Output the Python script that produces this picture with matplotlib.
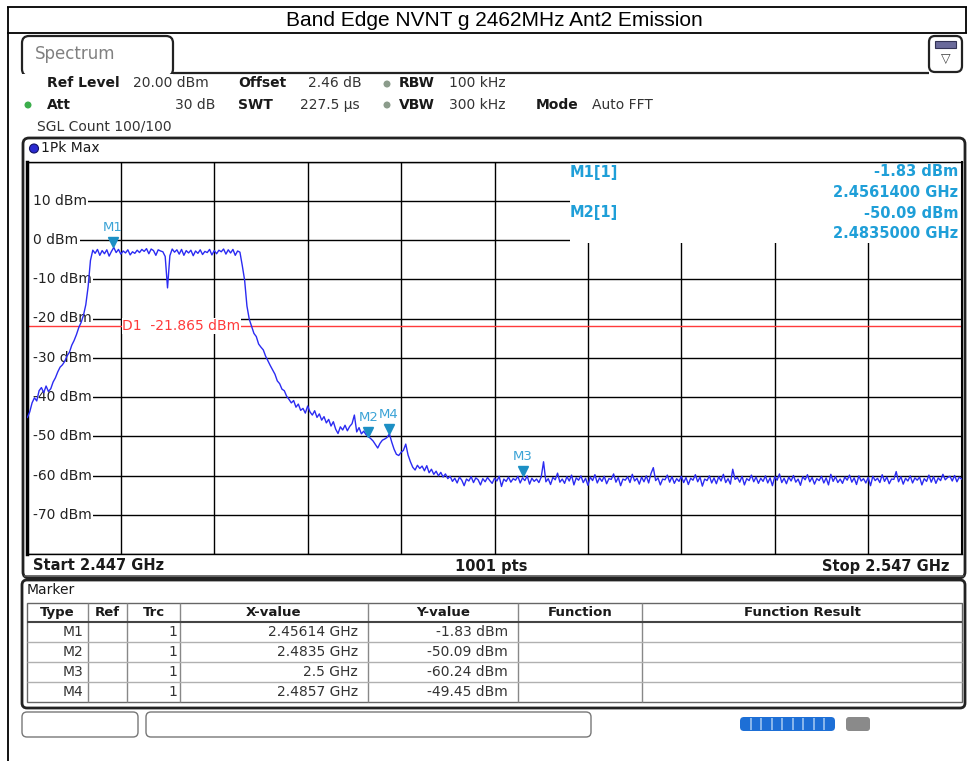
"""
Band edge emission plot, redrawn as a spectrum analyzer screen.
"""
import numpy as np
import matplotlib
matplotlib.use('Agg')
from matplotlib import pyplot as plt
from matplotlib.patches import FancyBboxPatch, Rectangle, Circle
from matplotlib.transforms import offset_copy

#################################################
# data
#################################################
TITLE = 'Band Edge NVNT g 2462MHz Ant2 Emission'
F_START = 2.447  # GHz
F_STOP = 2.547
F_STEP = 0.00025  # GHz between read-off trace points
REF_TOP = 20  # dBm
REF_BOTTOM = -80
D1_LEVEL = -21.865

# trace levels (dBm), each segment begins at its own offset from F_START (GHz)
RISE_START = 0.0
RISE = [-45.2, -43.8, -41.5, -40.2, -41.0, -38.4, -37.6, -38.9, -37.2, -38.6,
        -37.9, -36.2, -35.1, -33.6, -32.4, -31.8, -30.9, -29.5, -28.6, -26.8,
        -25.6, -24.1, -22.3, -21.0, -19.2, -16.5, -11.9, -5.2]
TOP_START = 0.007
TOP = [-2.6, -3.4, -2.4, -3.9, -2.7, -3.5, -2.5, -4.1,
       -2.9, -1.9, -3.2, -2.4, -3.6, -2.8, -3.3, -2.5,
       -3.8, -3.0, -3.4, -2.6, -3.2, -2.4, -2.9, -2.2,
       -3.5, -2.3, -2.7, -3.9, -2.5, -2.8, -3.0, -4.2,
       -12.2, -4.0, -2.3, -3.1, -2.5, -3.6, -2.4, -3.9,
       -2.7, -3.3, -2.6, -4.0, -2.8, -3.4, -2.5, -3.7,
       -2.9, -3.2, -2.4, -3.8, -2.7, -3.5, -2.6, -3.0,
       -2.3, -3.6, -2.5, -3.3, -2.4, -3.9, -2.8, -3.1]
FALL_START = 0.023
FALL = [-6.5, -10.2, -16.8, -20.2, -22.0, -23.8, -24.6, -26.5,
        -27.3, -28.0, -29.6, -30.8, -32.0, -33.1, -34.2, -35.9,
        -36.6, -38.0, -38.4, -39.8, -40.6, -41.5, -40.9, -42.6,
        -41.8, -43.4, -42.9, -44.1, -42.3, -43.8, -44.6, -43.5,
        -45.2, -44.3, -45.9, -45.0, -46.6, -45.7, -47.4, -46.3,
        -48.2, -49.3, -47.6, -48.4, -47.2, -48.6, -47.5, -46.8,
        -44.6, -48.9, -47.8, -49.4, -48.7, -49.6, -50.1, -50.6,
        -51.2, -52.1, -53.0, -51.8, -51.0, -50.7, -50.3, -49.4,
        -51.5, -53.3, -54.6, -54.9, -54.1, -53.6, -52.0, -54.8,
        -56.5, -57.9, -58.6, -57.4, -58.2, -57.6, -58.8, -57.5,
        -59.3, -58.4, -59.7, -58.9, -60.1, -59.2, -60.4, -59.6,
        -60.8]
FLOOR_START = 0.04525
FLOOR = [-60.2, -61.5, -60.7, -61.9, -60.4, -61.2, -62.6, -60.9, -61.4, -60.3,
         -61.8, -60.6, -61.1, -62.4, -60.8, -61.6, -60.5, -61.3, -62.0, -60.7,
         -61.4, -60.2, -62.8, -60.9, -61.5, -60.4, -61.7, -60.8, -61.2, -60.2,
         -61.9, -60.6, -61.3, -60.1, -62.2, -60.7, -61.5, -60.9, -61.8, -60.4,
         -56.5, -61.6, -60.8, -62.3, -60.5, -61.1, -59.4, -61.7, -60.9, -62.0,
         -60.3, -61.4, -59.9, -62.4, -60.6, -61.2, -60.1, -61.8, -60.7, -62.5,
         -60.4, -61.3, -59.8, -61.9, -60.6, -61.5, -60.2, -62.1, -60.8, -61.0,
         -59.6, -61.7, -60.5, -62.6, -60.9, -61.2, -60.3, -61.8, -59.7, -61.4,
         -60.7, -62.2, -60.4, -61.6, -60.1, -61.9, -59.5, -58.0, -61.3, -60.6,
         -62.4, -60.9, -61.1, -59.9, -61.7, -60.3, -62.0, -60.8, -61.5, -60.2,
         -61.8, -60.5, -62.3, -60.7, -61.2, -59.8, -61.6, -60.4, -62.7, -60.9,
         -61.3, -60.1, -61.9, -60.6, -62.1, -60.3, -61.4, -59.7, -61.8, -60.8,
         -62.2, -58.4, -61.0, -60.5, -61.7, -60.2, -62.4, -60.8, -61.3, -59.9,
         -61.6, -60.4, -62.0, -60.7, -61.5, -60.1, -61.9, -60.6, -62.6, -60.3,
         -61.2, -59.6, -61.8, -60.7, -62.1, -60.4, -61.4, -60.0, -61.7, -60.9,
         -62.5, -60.3, -61.1, -59.8, -61.6, -60.5, -62.2, -60.8, -61.3, -60.2,
         -61.9, -60.6, -62.4, -59.7, -61.5, -60.3, -61.8, -60.9, -62.0, -60.4,
         -61.2, -59.9, -61.7, -60.6, -62.3, -60.1, -61.4, -60.8, -61.9, -60.5,
         -62.6, -60.2, -61.3, -60.7, -61.8, -59.8, -61.5, -60.4, -62.1, -60.9,
         -61.0, -59.0, -61.6, -60.3, -62.2, -60.7, -61.4, -60.1, -61.9, -60.6,
         -61.2, -60.4, -62.4, -60.8, -61.5, -59.9, -61.7, -60.3, -62.0, -60.6,
         -61.3, -59.7, -61.1, -60.5, -60.2, -61.4, -60.0, -61.6, -60.4, -60.9]

MARKER_NAMES = ['M1', 'M2', 'M3', 'M4']
MARKER_FREQ = [2.45614, 2.4835, 2.5, 2.4857]  # GHz
MARKER_LEVEL = [-1.83, -50.09, -60.24, -49.45]  # dBm
MARKER_TRC = [1, 1, 1, 1]

#################################################
# look
#################################################
W, H = 967, 761
TRACE_C = '#2b2bf2'
MARK_C = '#1c8fc4'
INFO_C = '#1f9fd8'
D1_C = '#ff3a3a'
TXT_C = '#1a1a1a'
FONT = 'DejaVu Sans'


def segment(start, levels):
    f = F_START + start + F_STEP * np.arange(len(levels))
    return f, np.array(levels)


segs = [segment(RISE_START, RISE), segment(TOP_START, TOP),
        segment(FALL_START, FALL), segment(FLOOR_START, FLOOR)]
freq = np.concatenate([s[0] for s in segs])
level = np.concatenate([s[1] for s in segs])

fig = plt.figure(figsize=(W / 100, H / 100), dpi=100)
fig.patch.set_facecolor('white')

# background axes in screen pixels for all the analyzer chrome
bg = fig.add_axes([0, 0, 1, 1], zorder=0)
bg.set_xlim(0, W)
bg.set_ylim(H, 0)
bg.axis('off')

# spectrum axes (grid area)
gx0, gx1, gy0, gy1 = 27.4, 961.6, 161.5, 554.0
ax = fig.add_axes([gx0 / W, 1 - gy1 / H, (gx1 - gx0) / W, (gy1 - gy0) / H], zorder=1)
ax.patch.set_visible(False)
px = bg.transData


def line(x0, y0, x1, y1, c='black', lw=1.0, z=1):
    bg.plot([x0, x1], [y0, y1], color=c, lw=lw, zorder=z, solid_capstyle='butt')


def rbox(x, y, w, h, lw=1.5, ec='#222222', fc='none', r=6, z=1):
    bg.add_patch(FancyBboxPatch((x, y), w, h, boxstyle='round,pad=0,rounding_size=%d' % r,
                                lw=lw, ec=ec, fc=fc, zorder=z))


def txt(x, y, s, size=10, bold=False, ha='left', c=TXT_C, fam=FONT, target=None):
    (target or bg).text(x, y, s, fontsize=size, fontweight='bold' if bold else 'normal',
                        ha=ha, va='center', color=c, family=fam, transform=px, zorder=6)


#################################################
# report table frame + title
#################################################
line(7, 7, W, 7, lw=1.3)
line(7, 33, W, 33, lw=1.3)
line(7.5, 7, 7.5, H, lw=1.3)
line(966, 7, 966, 33, lw=1.3)
txt(494, 20, TITLE, size=15, ha='center', c='black', fam='Liberation Sans')

#################################################
# tab + header
#################################################
rbox(22, 36, 151, 40, lw=1.6, r=7)
bg.add_patch(Rectangle((19, 73.8), 158, 5, fc='white', ec='none', zorder=2))
line(173, 72.5, 929, 72.5, lw=1.6, c='#222222', z=3)
txt(35, 54, 'Spectrum', size=12, c='#808080')
rbox(929, 36, 33, 36, lw=1.6, r=6)
bg.add_patch(Rectangle((935, 41), 21, 7, fc='#6a6a9a', ec='#333355', lw=0.8, zorder=3))
txt(945.5, 59, '▽', size=9, ha='center', c='#444444')

txt(47, 83, 'Ref Level', bold=True)
txt(133, 83, '20.00 dBm', c='#333333')
txt(238, 83, 'Offset', bold=True)
txt(308, 83, '2.46 dB', c='#333333')
txt(399, 83, 'RBW', bold=True)
txt(449, 83, '100 kHz', c='#333333')
txt(47, 105, 'Att', bold=True)
txt(215, 105, '30 dB', ha='right', c='#333333')
txt(238, 105, 'SWT', bold=True)
txt(300, 105, '227.5 µs', c='#333333')
txt(399, 105, 'VBW', bold=True)
txt(449, 105, '300 kHz', c='#333333')
txt(536, 105, 'Mode', bold=True)
txt(592, 105, 'Auto FFT', c='#333333')
txt(37, 126, 'SGL Count 100/100', c='#333333')
for (cx, cy, cc) in [(28, 105, '#3cae4c'), (387, 84, '#8c9c8c'), (387, 105, '#8c9c8c')]:
    bg.add_patch(Circle((cx, cy), 3.5, fc=cc, ec='none', zorder=3))

#################################################
# trace window frame
#################################################
rbox(23, 138, 942, 440, lw=2.0, r=6)
bg.add_patch(Circle((34, 148.5), 4.5, fc='#2a2ad0', ec='#111166', lw=0.8, zorder=3))
txt(41, 148.5, '1Pk Max', size=10)
line(24, 576, 964, 576, lw=1.2, c='#555555')
txt(33, 566, 'Start %.3f GHz' % F_START, size=10.5, bold=True)
txt(491, 566, '%d pts' % 1001, size=10.5, bold=True, ha='center')
txt(950, 566, 'Stop %.3f GHz' % F_STOP, size=10.5, bold=True, ha='right')

#################################################
# spectrum grid + trace
#################################################
ax.set_xlim(F_START, F_STOP)
ax.set_ylim(REF_BOTTOM, REF_TOP)
ax.set_xticks(np.linspace(F_START, F_STOP, 11))
ax.set_yticks(np.arange(REF_BOTTOM, REF_TOP + 1, 10))
ax.tick_params(length=0, labelbottom=False, labelleft=False)
ax.set_axisbelow(True)
ax.grid(True, color='black', lw=1.0)
for s in ax.spines.values():
    s.set_color('black')
    s.set_linewidth(1.0)
ax.spines['left'].set_linewidth(2.5)
ax.spines['right'].set_linewidth(1.5)

# marker info box hides the grid at top right
ax.add_patch(Rectangle((570, 162.5), 392, 80, transform=px, fc='white', ec='none', zorder=1.5))
for i, k in enumerate([0, 1]):
    y = 172 + 41 * i
    txt(570, y, '%s[%d]' % (MARKER_NAMES[k], MARKER_TRC[k]), size=10.5, bold=True, c=INFO_C, target=ax)
    txt(958, y, '%.2f dBm' % MARKER_LEVEL[k], size=10.5, bold=True, ha='right', c=INFO_C, target=ax)
    txt(958, y + 20.5, '%.7f GHz' % MARKER_FREQ[k], size=10.5, bold=True, ha='right', c=INFO_C, target=ax)

# level labels sit on the grid lines, with the line hidden behind them
lx = F_START + (F_STOP - F_START) * 0.006
for v in range(REF_TOP - 10, REF_BOTTOM, -10):
    ax.text(lx, v, '%d dBm' % v, fontsize=10, ha='left', va='center', color='#222222',
            family=FONT, zorder=2, bbox=dict(fc='white', ec='none', pad=1.0))
    ax.add_patch(Rectangle((28.8, 240 - 3.925 * v - 2.5), 6, 5, transform=px,
                           fc='white', ec='none', zorder=1.8))

ax.axhline(D1_LEVEL, color=D1_C, lw=1.0, zorder=2.5)
ax.text(F_START + 0.01017, D1_LEVEL, 'D1  %.3f dBm' % D1_LEVEL, fontsize=10, ha='left',
        va='center', color=D1_C, family=FONT, zorder=2.6,
        bbox=dict(fc='white', ec='none', pad=0.5))

ax.plot(freq, level, color=TRACE_C, lw=1.0, zorder=3)

tri = offset_copy(ax.transData, fig=fig, x=0, y=5, units='dots')
ax.plot(MARKER_FREQ, MARKER_LEVEL, linestyle='none', marker='v', ms=7.5,
        color=MARK_C, transform=tri, zorder=4)
for n, f, v in zip(MARKER_NAMES, MARKER_FREQ, MARKER_LEVEL):
    ax.annotate(n, (f, v), xytext=(0, 14), textcoords='offset points', ha='center',
                va='center', fontsize=9.5, color='#3ba3d6', family=FONT, zorder=4)

#################################################
# marker table
#################################################
rbox(22, 580, 943, 128, lw=2.0, r=5)
txt(27, 590, 'Marker', size=10)
cols = [27, 88, 127, 180, 368, 518, 642, 962]
rows = [603, 622, 642, 662, 682, 702]
bg.add_patch(Rectangle((27, 603), 935, 99, fc='none', ec='#666666', lw=1.0, zorder=2))
for x in cols[1:-1]:
    line(x, 603, x, 702, c='#888888', lw=1.0, z=2)
line(27, 622, 962, 622, c='#444444', lw=1.5, z=2)
for y in rows[2:-1]:
    line(27, y, 962, y, c='#b0b0b0', lw=1.0, z=2)
heads = ['Type', 'Ref', 'Trc', 'X-value', 'Y-value', 'Function', 'Function Result']
for i, h in enumerate(heads):
    txt((cols[i] + cols[i + 1]) / 2, 612.5, h, size=9.5, bold=True, ha='center')
for i, (n, f, v, t) in enumerate(zip(MARKER_NAMES, MARKER_FREQ, MARKER_LEVEL, MARKER_TRC)):
    y = 632 + 20 * i
    txt(83, y, n, size=10, ha='right', c='#333333')
    txt(177, y, '%d' % t, size=10, ha='right', c='#333333')
    txt(358, y, '%g GHz' % f, size=10, ha='right', c='#333333')
    txt(508, y, '%.2f dBm' % v, size=10, ha='right', c='#333333')

#################################################
# status bar
#################################################
rbox(22, 712, 116, 25, lw=1.0, ec='#777777', r=5)
rbox(146, 712, 445, 25, lw=1.0, ec='#777777', r=5)
rbox(740, 717, 95, 14, lw=0, ec='none', fc='#1d6fd6', r=4)
for k in range(1, 9):
    line(740 + k * 10.5, 718, 740 + k * 10.5, 730, c='#9cc4f0', lw=1.2, z=3)
rbox(846, 717, 24, 14, lw=0, ec='none', fc='#8a8a8a', r=3)

fig.savefig('out.png', dpi=100)
